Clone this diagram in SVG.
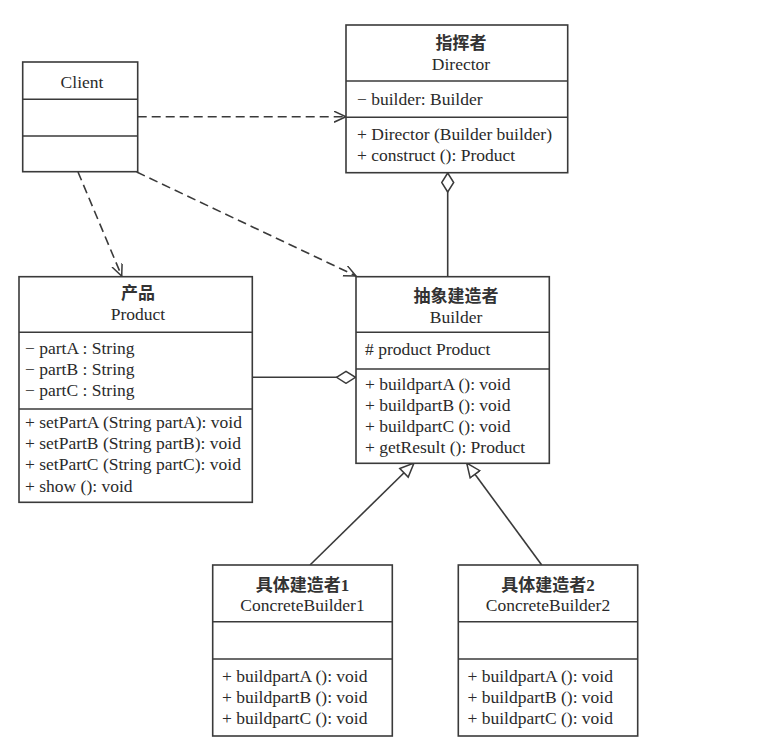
<svg xmlns="http://www.w3.org/2000/svg" width="765" height="746" viewBox="0 0 765 746">
<style>
.box{fill:#fff;stroke:#3a3a3a;stroke-width:1.6}
.div{stroke:#3a3a3a;stroke-width:1.6}
.t{font-family:"Liberation Serif","Noto Sans CJK SC",serif;font-size:17.5px;fill:#2a2a2a}
.c{text-anchor:middle}
.cn{font-family:"Liberation Serif","Noto Sans CJK SC",serif;font-size:17px;font-weight:600;fill:#333;text-anchor:middle}
.ln{stroke:#3a3a3a;stroke-width:1.6;fill:none}
.dash{stroke-dasharray:9 5}
</style>
<defs>
<marker id="open" markerUnits="userSpaceOnUse" markerWidth="14" markerHeight="12" refX="12" refY="5.5" orient="auto">
<path d="M0,0 L12,5.5 L0,11" fill="none" stroke="#3a3a3a" stroke-width="1.5" stroke-dasharray="none"/>
</marker>
<marker id="tri" markerUnits="userSpaceOnUse" markerWidth="18" markerHeight="16" refX="15" refY="7" orient="auto">
<path d="M1,1 L15,7 L1,13 Z" fill="#fff" stroke="#3a3a3a" stroke-width="1.5"/>
</marker>
<marker id="dia" markerUnits="userSpaceOnUse" markerWidth="22" markerHeight="14" refX="20" refY="7" orient="auto">
<path d="M1,7 L10.5,1 L20,7 L10.5,13 Z" fill="#fff" stroke="#3a3a3a" stroke-width="1.5"/>
</marker>
</defs>
<rect width="765" height="746" fill="#fff"/>
<g id="connectors">
<line class="ln dash" x1="137.7" y1="116.7" x2="346" y2="116.7" marker-end="url(#open)"/>
<line class="ln dash" x1="78" y1="172" x2="121.7" y2="276" marker-end="url(#open)"/>
<line class="ln dash" x1="136.7" y1="172" x2="356" y2="276" marker-end="url(#open)"/>
<line class="ln" x1="447.7" y1="276.5" x2="447.7" y2="173" marker-end="url(#dia)"/>
<line class="ln" x1="252.3" y1="377.3" x2="355.5" y2="377.3" marker-end="url(#dia)"/>
<line class="ln" x1="310" y1="565" x2="414" y2="463" marker-end="url(#tri)"/>
<line class="ln" x1="541.7" y1="565" x2="466.7" y2="463" marker-end="url(#tri)"/>
</g>
<g id="client">
<rect class="box" x="22.7" y="62" width="115" height="109.7"/>
<line class="div" x1="22.7" y1="99.3" x2="137.7" y2="99.3"/>
<line class="div" x1="22.7" y1="136" x2="137.7" y2="136"/>
<text class="t c" x="82" y="88">Client</text>
</g>
<g id="director">
<rect class="box" x="346" y="25" width="221.7" height="147.7"/>
<line class="div" x1="346" y1="81" x2="567.7" y2="81"/>
<line class="div" x1="346" y1="117.3" x2="567.7" y2="117.3"/>
<text class="cn" x="461" y="49">指挥者</text>
<text class="t c" x="461" y="70">Director</text>
<text class="t" x="357" y="105">− builder: Builder</text>
<text class="t" x="357" y="140">+ Director (Builder builder)</text>
<text class="t" x="357" y="161">+ construct (): Product</text>
</g>
<g id="product">
<rect class="box" x="19" y="276.7" width="233.3" height="225.6"/>
<line class="div" x1="19" y1="332.3" x2="252.3" y2="332.3"/>
<line class="div" x1="19" y1="409" x2="252.3" y2="409"/>
<text class="cn" x="138" y="299">产品</text>
<text class="t c" x="138" y="320">Product</text>
<text class="t" x="25" y="354">− partA : String</text>
<text class="t" x="25" y="375">− partB : String</text>
<text class="t" x="25" y="396">− partC : String</text>
<text class="t" x="25" y="428">+ setPartA (String partA): void</text>
<text class="t" x="25" y="449">+ setPartB (String partB): void</text>
<text class="t" x="25" y="470">+ setPartC (String partC): void</text>
<text class="t" x="25" y="491.5">+ show (): void</text>
</g>
<g id="builder">
<rect class="box" x="356" y="276.7" width="193.3" height="186.6"/>
<line class="div" x1="356" y1="332.3" x2="549.3" y2="332.3"/>
<line class="div" x1="356" y1="369" x2="549.3" y2="369"/>
<text class="cn" x="456" y="302">抽象建造者</text>
<text class="t c" x="456" y="323">Builder</text>
<text class="t" x="365" y="355"># product Product</text>
<text class="t" x="365" y="390">+ buildpartA (): void</text>
<text class="t" x="365" y="411">+ buildpartB (): void</text>
<text class="t" x="365" y="432">+ buildpartC (): void</text>
<text class="t" x="365" y="453">+ getResult (): Product</text>
</g>
<g id="concrete1">
<rect class="box" x="212.7" y="565" width="179.6" height="171"/>
<line class="div" x1="212.7" y1="621.7" x2="392.3" y2="621.7"/>
<line class="div" x1="212.7" y1="659" x2="392.3" y2="659"/>
<text class="cn" x="302.5" y="591">具体建造者1</text>
<text class="t c" x="302.5" y="611">ConcreteBuilder1</text>
<text class="t" x="222" y="682">+ buildpartA (): void</text>
<text class="t" x="222" y="703">+ buildpartB (): void</text>
<text class="t" x="222" y="724">+ buildpartC (): void</text>
</g>
<g id="concrete2">
<rect class="box" x="458.3" y="565" width="179.4" height="171"/>
<line class="div" x1="458.3" y1="621.7" x2="637.7" y2="621.7"/>
<line class="div" x1="458.3" y1="659" x2="637.7" y2="659"/>
<text class="cn" x="548" y="591">具体建造者2</text>
<text class="t c" x="548" y="611">ConcreteBuilder2</text>
<text class="t" x="467.5" y="682">+ buildpartA (): void</text>
<text class="t" x="467.5" y="703">+ buildpartB (): void</text>
<text class="t" x="467.5" y="724">+ buildpartC (): void</text>
</g>
</svg>
